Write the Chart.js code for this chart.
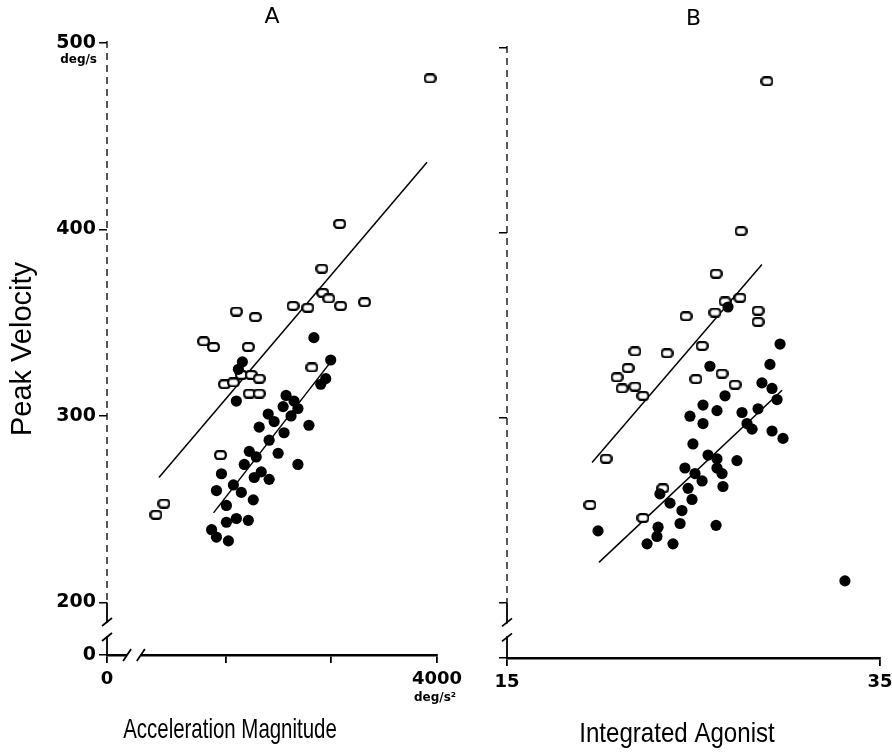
<!DOCTYPE html>
<html><head><meta charset="utf-8">
<script src="https://cdn.jsdelivr.net/npm/chart.js@4.4.1/dist/chart.umd.min.js"></script>
<style>
html,body{margin:0;padding:0;background:#fff;overflow:hidden;width:892px;height:755px;}
#wrapA{position:absolute;left:0;top:0;width:500px;height:755px;}
#wrapB{position:absolute;left:450px;top:0;width:480px;height:755px;}
</style></head><body>
<div id="wrapA"><canvas id="chartA" width="500" height="755"></canvas></div>
<div id="wrapB"><canvas id="chartB" width="480" height="755"></canvas></div>
<script>
// ---------- DATA ----------
// Panel A: [acceleration magnitude (deg/s^2), peak velocity (deg/s)]
const accelOpen = [[3934,481],[3080,403],[2911,379],[2920,366],[2977,363],[3089,359],[3315,361],[2639,359],[2779,358],[2103,356],[2282,353],[1793,340],[1887,337],[2216,337],[2817,326],[1991,317],[2075,318],[2150,322],[2244,322],[2319,320],[2225,312],[2319,312],[1953,279],[1418,253],[1343,247]];
const accelFilled = [[2836,342],[2995,330],[2948,320],[2901,317],[2789,295],[2685,274],[2498,280],[2573,311],[2648,308],[2545,305],[2685,304],[2620,300],[2404,301],[2460,297],[2319,294],[2554,291],[2413,287],[2225,281],[2291,278],[2178,274],[2338,270],[2413,266],[2272,267],[1962,269],[2075,263],[1915,260],[2150,259],[2263,255],[2009,252],[2009,243],[2103,245],[2216,244],[1869,239],[1915,235],[2028,233],[2103,308],[2160,329],[2122,325]];
const accelFitOpen = [[1371,267],[3906,436]];
const accelFitFilled = [[1887,248],[3023,331]];
// Panel B: [integrated agonist, peak velocity (deg/s)]
const agonistOpen = [[28.94,482],[27.55,401],[26.21,378],[24.60,355],[26.15,357],[26.69,363],[27.49,365],[28.46,358],[28.46,352],[25.46,339],[21.86,336],[23.58,335],[21.49,327],[26.53,324],[20.90,322],[25.13,321],[21.17,316],[21.86,317],[22.29,312],[27.23,318],[20.31,278],[23.36,262],[22.29,246],[19.45,253]];
const agonistFilled = [[28.67,319],[29.21,316],[26.69,312],[25.51,307],[26.26,304],[24.81,301],[25.51,297],[28.46,305],[27.60,303],[29.48,310],[27.87,297],[28.14,294],[29.21,293],[29.80,289],[24.97,286],[25.78,280],[26.26,278],[27.33,277],[26.26,273],[24.54,273],[25.08,270],[26.53,270],[25.46,266],[26.58,263],[24.71,262],[23.20,259],[24.92,256],[23.74,254],[24.38,250],[24.28,243],[23.10,241],[26.21,242],[19.88,239],[23.04,236],[22.51,232],[23.90,232],[26.85,360],[29.64,340],[29.10,329],[25.88,328],[33.12,212]];
const agonistFitOpen = [[19.56,276],[28.67,383]];
const agonistFitFilled = [[19.93,222],[29.75,315]];
// Tick labels
const velocityTicks = [200,300,400,500];
const accelTicks = [2000,3000,4000];
const agonistTicks = [15,35];
// Broken-axis start values (shown as "0")
const velocityBreakMinA = 171.8, velocityBreakMinB = 170.3;
const accelBreakMin = 880;

// ---------- STYLE ----------
const sans = "'Liberation Sans',Arial,sans-serif";
const numFont = "'DejaVu Sans',sans-serif";

function openMarker(){
  const c=document.createElement('canvas'); c.width=13; c.height=10;
  const g=c.getContext('2d');
  const x=1.2,y=1.2,w=10.6,h=7.6,r=3;
  g.beginPath();
  g.moveTo(x+r,y); g.lineTo(x+w-r,y); g.arcTo(x+w,y,x+w,y+r,r); g.lineTo(x+w,y+h-r);
  g.arcTo(x+w,y+h,x+w-r,y+h,r); g.lineTo(x+r,y+h); g.arcTo(x,y+h,x,y+h-r,r);
  g.lineTo(x,y+r); g.arcTo(x,y,x+r,y,r); g.closePath();
  g.fillStyle='#fff'; g.fill(); g.lineWidth=2.2; g.strokeStyle='#000'; g.stroke();
  return c;
}
const marker = openMarker();
const pts = a => a.map(p=>({x:p[0],y:p[1]}));

const decor = {
  id:'decor',
  afterDraw(chart, args, o){
    const {ctx, chartArea, scales:{x,y}} = chart;
    const ax = x.left;
    ctx.save();
    ctx.strokeStyle='#000'; ctx.fillStyle='#000';
    const p200 = y.getPixelForValue(200);
    ctx.lineWidth=1.3; ctx.setLineDash([7,5]);
    ctx.beginPath(); ctx.moveTo(ax, y.top-2); ctx.lineTo(ax, p200); ctx.stroke();
    ctx.setLineDash([]);
    const b1=y.getPixelForValue(o.yBreakHi), b2=y.getPixelForValue(o.yBreakLo);
    ctx.lineWidth=1.8;
    ctx.beginPath(); ctx.moveTo(ax,p200); ctx.lineTo(ax,b1); ctx.moveTo(ax,b2); ctx.lineTo(ax,y.bottom); ctx.stroke();
    ctx.beginPath(); ctx.moveTo(ax-5,b1+3); ctx.lineTo(ax+5,b1-5); ctx.moveTo(ax-5,b2+5); ctx.lineTo(ax+5,b2-3); ctx.stroke();
    if (o.xBreak){
      const c1=x.getPixelForValue(o.xBreak[0]), c2=x.getPixelForValue(o.xBreak[1]);
      ctx.fillStyle='#fff'; ctx.fillRect(c1, y.bottom-3, c2-c1, 6);
      ctx.strokeStyle='#000'; ctx.lineWidth=1.8;
      ctx.beginPath(); ctx.moveTo(c1-4,y.bottom+6); ctx.lineTo(c1+4,y.bottom-6);
      ctx.moveTo(c2-4,y.bottom+6); ctx.lineTo(c2+4,y.bottom-6); ctx.stroke();
    }
    ctx.fillStyle='#000';
    if (o.yUnit){
      ctx.font="bold 12px "+numFont; ctx.textAlign='right'; ctx.textBaseline='middle';
      ctx.fillText(o.yUnit, ax-10, y.getPixelForValue(500)+17);
    }
    if (o.xUnit){
      ctx.font="bold 12px "+numFont; ctx.textAlign='center'; ctx.textBaseline='middle';
      ctx.fillText(o.xUnit, x.getPixelForValue(4000)-2, y.bottom+43);
    }
    // x-axis title, horizontally condensed like the original lettering
    if (o.xTitle){
      const cx = chartArea.left + o.xTitleOffset;
      const by = y.bottom + o.xTitleDrop;
      ctx.translate(cx, by); ctx.scale(o.xTitleSquash, 1);
      ctx.font = "28px "+sans; ctx.textAlign='center'; ctx.textBaseline='alphabetic';
      ctx.fillText(o.xTitle, 0, 0);
    }
    ctx.restore();
  }
};

function makeChart(id, cfg){
  return new Chart(document.getElementById(id), {
    type:'scatter',
    data:{datasets:[
      {data:pts(cfg.filled), pointStyle:'circle', pointRadius:5.6, backgroundColor:'#000', borderColor:'#000', borderWidth:0},
      {data:pts(cfg.open), pointStyle:marker, pointRadius:6},
      {data:pts(cfg.fitOpen), showLine:true, pointRadius:0, borderColor:'#000', borderWidth:1.5},
      {data:pts(cfg.fitFilled), showLine:true, pointRadius:0, borderColor:'#000', borderWidth:1.5}
    ]},
    options:{
      responsive:false, animation:false, devicePixelRatio:1,
      layout:{padding:{left:0, right:cfg.padRight, top:0, bottom:0}},
      plugins:{
        legend:{display:false}, tooltip:{enabled:false},
        title:{display:true, text:cfg.title, fullSize:false, color:'#000',
          font:{family:numFont, size:22, weight:'normal'},
          padding:{top:cfg.titleTop, bottom:cfg.chartTop-cfg.titleTop-26.4}},
        decor: cfg.decor
      },
      scales:{
        x:{type:'linear', min:cfg.xmin, max:cfg.xmax,
          afterBuildTicks:s=>{s.ticks=cfg.xTicks.map(v=>({value:v}));},
          afterFit:s=>{s.height=755-cfg.chartBottom;},
          grid:{drawOnChartArea:false, drawTicks:true, tickLength:8, color:'#000', lineWidth:1.8},
          border:{display:true, color:'#000', width:2.4},
          ticks:{color:'#000', padding:6, maxRotation:0, autoSkip:false, font:{family:numFont, size:18, weight:'bold'},
            callback:v=>cfg.xLabel(v)},
          title:{display:false}
        },
        y:{type:'linear', min:cfg.ymin, max:500,
          afterBuildTicks:s=>{s.ticks=[cfg.ymin].concat(velocityTicks).map(v=>({value:v}));},
          afterFit:s=>{s.width=cfg.yWidth;},
          grid:{drawOnChartArea:false, drawTicks:true, tickLength:8, color:'#000', lineWidth:1.5},
          border:{display:false},
          ticks:{color:'#000', padding:3, autoSkip:false, font:{family:numFont, size:19, weight:'bold'},
            callback:v=>cfg.yLabel(v)},
          title:{display:cfg.yTitle!=='', text:cfg.yTitle, color:'#000', font:{family:sans, size:29}, padding:{top:6,bottom:0}}
        }
      }
    },
    plugins:[decor]
  });
}

makeChart('chartA', {
  title:'A', titleTop:4, chartTop:43, chartBottom:655, padRight:63, yWidth:107,
  filled:accelFilled, open:accelOpen, fitOpen:accelFitOpen, fitFilled:accelFitFilled,
  xmin:accelBreakMin, xmax:4000, xTicks:[accelBreakMin].concat(accelTicks),
  xLabel:v=> v===accelBreakMin ? '0' : (v===4000 ? '4000' : ''),
  ymin:velocityBreakMinA, yLabel:v=> v===velocityBreakMinA ? '0' : String(v),
  yTitle:'Peak Velocity',
  decor:{yBreakHi:189, yBreakLo:182, xBreak:[1070,1200], yUnit:'deg/s', xUnit:'deg/s\u00b2',
         xTitle:'Acceleration Magnitude', xTitleOffset:123, xTitleDrop:83, xTitleSquash:0.73}
});
makeChart('chartB', {
  title:'B', titleTop:6, chartTop:48, chartBottom:658, padRight:50, yWidth:57,
  filled:agonistFilled, open:agonistOpen, fitOpen:agonistFitOpen, fitFilled:agonistFitFilled,
  xmin:15, xmax:35, xTicks:agonistTicks,
  xLabel:v=> String(v),
  ymin:velocityBreakMinB, yLabel:v=> '',
  yTitle:'',
  decor:{yBreakHi:189, yBreakLo:182,
         xTitle:'Integrated Agonist', xTitleOffset:170, xTitleDrop:84, xTitleSquash:0.86}
});
</script>
</body></html>
